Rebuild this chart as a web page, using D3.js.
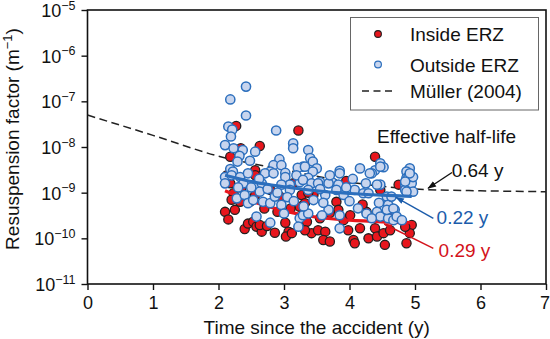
<!DOCTYPE html>
<html><head><meta charset="utf-8">
<script src="https://cdn.jsdelivr.net/npm/d3@7"></script>
<style>
body{margin:0;background:#fff}
svg{display:block}
text{font-family:"Liberation Sans",Arial,Helvetica,sans-serif;fill:#111}
</style>
</head><body>
<svg id="chart" width="550" height="339"></svg>
<script>
// ---------- data ----------
const xTicks = [0, 1, 2, 3, 4, 5, 6, 7];
const yTickExponents = [-11, -10, -9, -8, -7, -6, -5];
const seriesNames = ["Inside ERZ", "Outside ERZ", "Müller (2004)"];

// [time (y), resuspension factor (m^-1)]
const insideERZ = [
 [2.27,2.9e-8],[3.22,2.3e-8],[2.63,1.05e-8],[2.34,9.4e-9],[2.18,6.1e-9],[2.56,3.1e-9],[4.39,6.1e-9],
 [2.10,3.8e-10],[2.15,2.6e-10],[2.25,4.2e-10],[2.23,9.7e-10],[2.33,6.3e-10],[2.40,1.6e-10],[2.45,2.1e-10],
 [2.53,2.3e-10],[2.58,1.8e-10],[2.66,1.4e-10],[2.63,1.96e-10],[2.74,1.86e-10],[2.86,1.33e-10],[3.02,2.2e-10],
 [3.07,1.4e-10],[3.03,1.1e-10],[3.12,1.3e-10],[2.48,6.3e-10],[2.56,8.9e-10],[2.79,1.15e-9],[2.94,8.2e-10],
 [3.14,1.6e-9],[2.18,1.6e-9],[2.13,2.4e-9],[2.56,2.4e-9],[3.24,4.9e-10],[3.27,8.9e-10],[3.32,5.9e-10],
 [3.35,2.3e-10],[3.42,1.3e-10],[3.55,2.75e-10],[3.52,1.5e-10],[3.63,1.4e-10],[3.60,9.2e-11],[3.70,8.5e-11],
 [3.80,6.3e-10],[3.83,4.2e-10],[3.91,2.5e-10],[4.01,3.2e-10],[3.98,1.5e-10],[4.06,9.2e-11],[4.08,7.8e-11],
 [4.16,1.66e-10],[4.26,3.8e-10],[4.29,1.0e-10],[4.39,1.66e-10],[4.42,1.1e-10],[4.52,1.3e-10],[4.54,7.2e-11],
 [4.62,1.5e-10],[4.75,1.5e-9],[4.47,1.15e-9],[4.95,1.96e-10],[4.92,1.3e-10],[4.87,7.8e-11],[4.85,1.8e-10],
 [2.70,4.5e-10],[2.90,3.8e-10],[3.10,4.5e-10],[2.35,1.3e-9],[3.45,9.0e-10],[3.70,3.6e-10],[4.20,5.5e-10],
 [4.60,3.5e-10],[3.95,1.8e-9],[2.20,7.0e-10],[3.37,1.0e-9],[3.32,1.5e-10]
];

const outsideERZ = [
 [2.42,2.1e-7],[2.18,1.1e-7],[2.42,4.9e-8],[2.15,2.8e-8],[2.21,2.4e-8],[2.19,1.7e-8],[2.88,2.3e-8],
 [3.14,1.2e-8],[3.14,9.4e-9],[2.10,1.1e-8],[2.23,9.4e-9],[2.56,7.9e-9],[2.37,8.6e-9],[2.32,6.4e-9],
 [2.29,4.8e-9],[2.48,5.0e-9],[2.93,5.4e-9],[2.84,4.0e-9],[2.96,4.0e-9],[3.37,8.6e-9],[3.29,3.7e-9],
 [3.21,3.5e-9],[2.18,3.3e-9],[2.22,2.9e-9],[2.79,2.9e-9],[3.02,2.7e-9],
 [3.40,5.7e-9],[3.44,4.8e-9],[3.32,3.7e-9],[3.50,3.4e-9],[3.85,3.0e-9],[4.16,3.4e-9],[4.47,4.4e-9],
 [4.52,3.6e-9],[4.39,3.1e-9],[4.92,3.4e-9],[4.87,2.9e-9],[3.44,2.9e-9],[3.24,1.7e-9],[3.37,2.1e-9],
 [3.55,1.7e-9],[3.73,1.7e-9],[3.85,2.65e-9],[4.34,2.65e-9],[4.47,3.7e-9],[4.87,2.1e-9],[4.85,1.5e-9],
 [4.92,1.35e-9],[4.47,1.5e-9],
 [2.10,2.2e-9],[2.10,1.6e-9],[2.20,2.4e-9],[2.33,2.2e-9],[2.38,1.6e-9],[2.45,2.65e-9],[2.56,1.5e-9],
 [2.66,1.6e-9],[2.71,2.65e-9],[2.84,2.65e-9],[3.02,2.2e-9],[3.09,1.5e-9],[2.96,1.5e-9],[3.19,2.4e-9],
 [3.29,1.9e-9],[2.28,7.5e-10],[2.40,8.9e-10],[2.45,5.9e-10],[2.53,6.9e-10],[2.63,1.05e-9],[2.68,6.3e-10],
 [2.79,5.9e-10],[2.86,8.2e-10],[2.96,5.4e-10],[2.58,3.0e-10],[2.79,2.2e-10],[3.09,1.15e-9],[3.24,2.75e-10],
 [3.22,1.8e-10],[3.29,3.2e-10],
 [3.42,1.6e-9],[3.52,1.6e-9],[3.68,1.6e-9],[3.83,1.5e-9],[3.63,8.9e-10],[3.80,1.15e-9],[3.91,8.9e-10],
 [4.08,1.15e-9],[4.21,9.7e-10],[4.29,9.7e-10],[4.42,1.5e-9],[4.31,2.65e-9],[4.57,8.2e-10],[4.59,5.4e-10],
 [4.64,8.2e-10],[4.85,1.15e-9],[4.95,1.6e-9],[4.90,2.2e-9],[4.97,2.2e-9],[3.45,6.9e-10],[3.37,3.5e-10],
 [3.68,4.2e-10],[3.85,1.66e-10],[3.85,3.2e-10],[4.13,4.55e-10],[4.26,3.5e-10],[4.42,3.8e-10],[4.47,3.0e-10],
 [4.34,2.75e-10],[4.59,2.75e-10],[4.67,2.5e-10],[4.69,4.2e-10],[4.57,4.2e-10],[3.37,1.15e-9],[3.58,3.2e-10],
 [4.92,2.65e-9],[4.85,1.75e-9],[4.97,1.05e-9],[4.87,1.05e-9],[4.67,4.5e-10],[4.72,3.0e-10],[4.80,2.5e-10],
 [2.50,1.3e-9],[2.75,1.2e-9],[2.90,1.0e-9],[3.05,8.0e-10],[2.62,2.0e-9],[3.00,3.5e-10],[3.15,6.5e-10],
 [2.30,1.3e-9],[3.55,1.2e-9],[3.95,1.3e-9],[4.05,2.0e-9],[4.25,1.6e-9],[3.70,2.4e-9],[3.60,6.0e-10],
 [4.00,6.5e-10],[4.45,6.0e-10],[3.30,5.0e-10]
];

// Müller (2004) model curve
const mullerTime = [0, 1, 2, 3, 4, 5, 6, 7];
const mullerValue = [5.0e-8, 1.8e-8, 6.3e-9, 3.2e-9, 1.7e-9, 1.2e-9, 1.1e-9, 1.05e-9];

// fitted curves
const fitTime = [2.1, 2.5, 3.0, 3.5, 4.0, 4.5, 4.95];
const fitOutside = [2.4e-9, 1.75e-9, 1.35e-9, 1.1e-9, 9.6e-10, 8.8e-10, 8.3e-10];
const fitInside = [1.1e-9, 6.5e-10, 4.0e-10, 2.9e-10, 2.5e-10, 2.3e-10, 2.2e-10];

// effective half-life annotations
const halfLifeLabels = ["0.64 y", "0.22 y", "0.29 y"];
const annotationTitle = "Effective half-life";

// ---------- style / layout ----------
const m = {left: 87.5, right: 546, top: 10, bottom: 284};
const RED = "#e8161d", RED_TXT = "#d3121a", BLUE_FILL = "#c8d5ee", BLUE_STROKE = "#2c6fbd", BLUE_TXT = "#1b5cab";
const FS = 19;
const R = 4.6;

const svg = d3.select("#chart");
const x = d3.scaleLinear().domain([0, 7]).range([m.left, m.right]);
const y = d3.scaleLog().domain([1e-11, 1e-5]).range([m.bottom, m.top]);

// arrow markers
const defs = svg.append("defs");
[["k", "#111"], ["b", BLUE_TXT], ["r", RED_TXT]].forEach(([id, c]) => {
  defs.append("marker").attr("id", "ah-" + id)
    .attr("viewBox", "0 -4 10 8").attr("refX", 9).attr("refY", 0)
    .attr("markerWidth", 9).attr("markerHeight", 7).attr("markerUnits", "userSpaceOnUse")
    .attr("orient", "auto")
    .append("path").attr("d", "M0,-3.5L10,0L0,3.5Z").attr("fill", c);
});

// x axis
const xAxis = svg.append("g").attr("transform", `translate(0,${m.bottom})`)
  .call(d3.axisBottom(x).tickValues(xTicks).tickSize(6).tickSizeOuter(0).tickFormat(d3.format("d")));
xAxis.select(".domain").remove();
xAxis.selectAll("line").attr("stroke", "#111").attr("stroke-width", 1.4);
xAxis.selectAll("text").attr("font-size", 18).attr("dy", "0").attr("y", 25).attr("fill", "#111")
  .attr("dx", (d, i) => i === xTicks.length - 1 ? -1.5 : 0);

// y axis
const yAxis = svg.append("g").attr("transform", `translate(${m.left},0)`)
  .call(d3.axisLeft(y).tickValues(yTickExponents.map(e => Math.pow(10, e))).tickSize(6).tickSizeOuter(0).tickFormat(() => ""));
yAxis.select(".domain").remove();
yAxis.selectAll("line").attr("stroke", "#111").attr("stroke-width", 1.4);
yAxis.selectAll(".tick").each(function(d, i) {
  const t = d3.select(this).select("text");
  t.text(null).attr("x", -12).attr("dy", 0).attr("y", 6.5).attr("text-anchor", "end").attr("fill", "#111");
  t.append("tspan").attr("font-size", 18).text("10");
  t.append("tspan").attr("font-size", 12.5).attr("dy", -7.5).text("\u2212" + Math.abs(yTickExponents[i]));
});

// frame
svg.append("rect").attr("x", m.left).attr("y", m.top)
  .attr("width", m.right - m.left).attr("height", m.bottom - m.top)
  .attr("fill", "none").attr("stroke", "#111").attr("stroke-width", 1.6);

// axis titles
svg.append("text").attr("x", (m.left + m.right) / 2).attr("y", 334).attr("text-anchor", "middle")
  .attr("font-size", FS).text("Time since the accident (y)");
const yt = svg.append("text").attr("transform", `translate(19,${(m.top + m.bottom) / 2 - 8}) rotate(-90)`)
  .attr("text-anchor", "middle").attr("font-size", FS);
yt.append("tspan").text("Resuspension factor (m");
yt.append("tspan").attr("font-size", 13).attr("dy", -7).text("\u22121");
yt.append("tspan").attr("dy", 7).text(")");

// clip
defs.append("clipPath").attr("id", "plotclip").append("rect")
  .attr("x", m.left).attr("y", m.top).attr("width", m.right - m.left).attr("height", m.bottom - m.top);
const plot = svg.append("g").attr("clip-path", "url(#plotclip)");

// Müller dashed curve
const line = d3.line().x(d => x(d[0])).y(d => y(d[1])).curve(d3.curveMonotoneX);
plot.append("path").datum(mullerTime.map((t, i) => [t, mullerValue[i]]))
  .attr("d", line).attr("fill", "none").attr("stroke", "#222").attr("stroke-width", 1.5)
  .attr("stroke-dasharray", "8,4.5");

// inside points
plot.append("g").selectAll("circle").data(insideERZ).join("circle")
  .attr("cx", d => x(d[0])).attr("cy", d => y(d[1])).attr("r", R)
  .attr("fill", RED).attr("stroke", "#231f20").attr("stroke-width", 1.3);
// inside fit
plot.append("path").datum(fitTime.map((t, i) => [t, fitInside[i]]))
  .attr("d", line).attr("fill", "none").attr("stroke", RED).attr("stroke-width", 3.2);

// outside points
plot.append("g").selectAll("circle").data(outsideERZ).join("circle")
  .attr("cx", d => x(d[0])).attr("cy", d => y(d[1])).attr("r", R)
  .attr("fill", BLUE_FILL).attr("stroke", BLUE_STROKE).attr("stroke-width", 1.5);
// outside fit
plot.append("path").datum(fitTime.map((t, i) => [t, fitOutside[i]]))
  .attr("d", line).attr("fill", "none").attr("stroke", BLUE_STROKE).attr("stroke-width", 3.2);

// annotations (in data coordinates)
const ann = [
  {label: halfLifeLabels[0], color: "#111", m: "k", tip: [5.20, 1.25e-9], tail: [5.565, 2.77e-9], at: [5.56, 2.24e-9]},
  {label: halfLifeLabels[1], color: BLUE_TXT, m: "b", tip: [4.71, 7.9e-10], tail: [5.28, 2.75e-10], at: [5.33, 2.03e-10]},
  {label: halfLifeLabels[2], color: RED_TXT, m: "r", tip: [4.53, 2.06e-10], tail: [5.28, 6.05e-11], at: [5.36, 3.96e-11]}
];
ann.forEach(a => {
  svg.append("line").attr("x1", x(a.tail[0])).attr("y1", y(a.tail[1]))
    .attr("x2", x(a.tip[0])).attr("y2", y(a.tip[1]))
    .attr("stroke", a.color).attr("stroke-width", 1.4).attr("marker-end", `url(#ah-${a.m})`);
  svg.append("text").attr("x", x(a.at[0])).attr("y", y(a.at[1])).attr("font-size", FS)
    .style("fill", a.color).text(a.label);
});
svg.append("text").attr("x", x(4.42)).attr("y", y(1.22e-8)).attr("font-size", FS).text(annotationTitle);

// legend
const lg = svg.append("g");
lg.append("rect").attr("x", 350.5).attr("y", 17.5).attr("width", 188).attr("height", 92.5)
  .attr("fill", "#fff").attr("stroke", "#666").attr("stroke-width", 1);
const rows = [34, 64.5, 91];
lg.append("circle").attr("cx", 378).attr("cy", rows[0]).attr("r", 3.4)
  .attr("fill", RED).attr("stroke", "#231f20").attr("stroke-width", 1.1);
lg.append("circle").attr("cx", 378).attr("cy", rows[1]).attr("r", 3.4)
  .attr("fill", BLUE_FILL).attr("stroke", BLUE_STROKE).attr("stroke-width", 1.2);
lg.append("line").attr("x1", 362).attr("x2", 394).attr("y1", rows[2]).attr("y2", rows[2])
  .attr("stroke", "#222").attr("stroke-width", 1.5).attr("stroke-dasharray", "7,4.5");
rows.forEach((r, i) => {
  lg.append("text").attr("x", 410).attr("y", r + 7).attr("font-size", FS).text(seriesNames[i]);
});
</script>
</body></html>
